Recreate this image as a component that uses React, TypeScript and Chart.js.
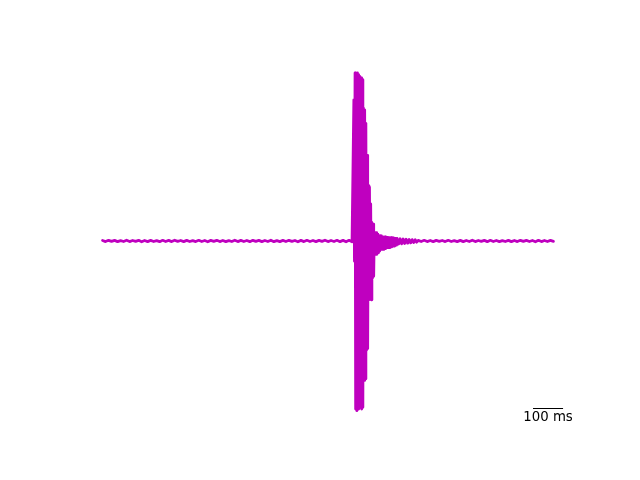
import React, { useEffect, useRef } from "react";
import { Chart, registerables } from "chart.js";

Chart.register(...registerables);

// Recorded trace (time in ms, amplitude in arbitrary units), split into segments
const baselineBeforeStart = 0;
const baselineBeforeStep = 10;
const baselineBefore = [
  0.3, -0.35, 0.4, -0.25, 0.35, -0.4, 0.25, -0.3, 0.45, -0.35,
  0.3, -0.25, 0.4, -0.45, 0.3, -0.35, 0.35, -0.3, 0.25, -0.4,
  0.4, -0.3, 0.35, -0.35, 0.45, -0.25, 0.3, -0.4, 0.35, -0.3,
  0.25, -0.35, 0.4, -0.3, 0.3, -0.45, 0.35, -0.25, 0.4, -0.35,
  0.3, -0.4, 0.25, -0.3, 0.45, -0.35, 0.35, -0.3, 0.3, -0.4,
  0.4, -0.25, 0.35, -0.35, 0.3, -0.3, 0.45, -0.4, 0.25, -0.35,
  0.35, -0.3, 0.4, -0.25, 0.3, -0.45, 0.35, -0.35, 0.4, -0.3,
  0.3, -0.4, 0.35, -0.25, 0.45, -0.35, 0.3, -0.3, 0.4, -0.4,
  0.35, -0.45, 0.4, -0.5,
];

const burstStart = 836;
const burstStep = 2;
const burst = [
  84, -12, 100, -100, 99, -101, 100, -100, 99, -99,
  98, -60, 97, -100, 96, -99, 79, -83, 78, -82,
  70, -65, 51, -64, 33, -35, 32, -34, 22, -35,
  11, -22, 10, -21, 5, -8, 5, -8, 5, -7,
  4, -7, 3, -6, 3, -5, 3, -5, 2.5, -5,
  2.5, -4.5, 2.5, -4.5, 2.2, -4, 2.2, -4, 2, -4,
  2, -3.5, 2, -3.5, 1.8, -3, 1.8, -3, 1.6, -2.5,
  1.6, -2.5, 1.5,
];

const tailStart = 985;
const tailStep = 5;
const tail = [-1.8, 1.3, -1.7, 1.2, -1.5, 1.0, -1.3, 0.9, -1.1, 0.8, -0.9, 0.7, -0.7];

const baselineAfterStart = 1050;
const baselineAfterStep = 10;
const baselineAfter = [
  0.35, -0.3, 0.4, -0.35, 0.3, -0.4, 0.35, -0.25, 0.3, -0.35,
  0.4, -0.3, 0.25, -0.35, 0.35, -0.4, 0.3, -0.3, 0.45, -0.35,
  0.3, -0.25, 0.35, -0.4, 0.4, -0.3, 0.3, -0.35, 0.25, -0.3,
  0.35, -0.4, 0.3, -0.35, 0.4, -0.25, 0.35, -0.3, 0.3, -0.45,
  0.4, -0.35, 0.3, -0.3, 0.35, -0.25,
];

const scaleBarMs = 100;
const scaleBarLabel = "100 ms";

function segment(start: number, step: number, values: number[]) {
  return values.map((v, i) => ({ x: start + i * step, y: v }));
}

export default function App() {
  const ref = useRef<HTMLCanvasElement | null>(null);

  useEffect(() => {
    if (!ref.current) return;
    const points = [
      ...segment(baselineBeforeStart, baselineBeforeStep, baselineBefore),
      ...segment(burstStart, burstStep, burst),
      ...segment(tailStart, tailStep, tail),
      ...segment(baselineAfterStart, baselineAfterStep, baselineAfter),
    ];

    const scaleBar = {
      id: "scaleBar",
      afterDraw(chart: any) {
        const { ctx, scales } = chart;
        const xs = scales.x;
        const ys = scales.y;
        const x0 = xs.getPixelForValue(1432);
        const x1 = xs.getPixelForValue(1432 + scaleBarMs);
        const y = Math.round(ys.getPixelForValue(-99.4)) + 0.5;
        ctx.save();
        ctx.strokeStyle = "#000";
        ctx.lineWidth = 1;
        ctx.beginPath();
        ctx.moveTo(x0, y);
        ctx.lineTo(x1, y);
        ctx.stroke();
        ctx.fillStyle = "#000";
        ctx.font = '13.3px "DejaVu Sans"';
        ctx.textAlign = "center";
        ctx.textBaseline = "top";
        ctx.fillText(scaleBarLabel, (x0 + x1) / 2, y + 2);
        ctx.restore();
      },
    };

    const chart = new Chart(ref.current, {
      type: "line",
      data: {
        datasets: [
          {
            data: points,
            borderColor: "#bf00bf",
            borderWidth: 2.8,
            pointRadius: 0,
            tension: 0,
            fill: false,
            borderJoinStyle: "round",
            borderCapStyle: "round",
          },
        ],
      },
      options: {
        animation: false,
        responsive: false,
        devicePixelRatio: 1,
        layout: { padding: { left: 80, right: 64, top: 58, bottom: 52.5 } },
        plugins: { legend: { display: false }, tooltip: { enabled: false }, title: { display: false } },
        scales: {
          x: { type: "linear", display: false, min: -75, max: 1575 },
          y: { type: "linear", display: false, min: -111, max: 108.9 },
        },
      },
      plugins: [scaleBar],
    });
    return () => chart.destroy();
  }, []);

  return (
    <div style={{ position: "fixed", left: 0, top: 0, width: 640, height: 480, background: "#fff" }}>
      <canvas ref={ref} width={640} height={480} style={{ width: 640, height: 480, display: "block" }} />
    </div>
  );
}
